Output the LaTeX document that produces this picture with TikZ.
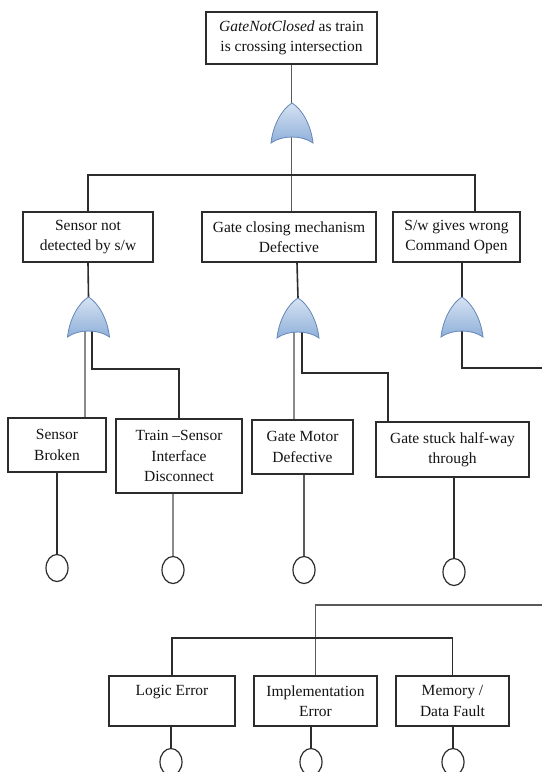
\documentclass[tikz,border=0pt]{standalone}
\usepackage{fontspec}
\setmainfont{Liberation Serif}
\usetikzlibrary{shapes.geometric,calc}
\definecolor{lineC}{HTML}{2C2C2C}
\definecolor{midC}{HTML}{5A5A5A}
\definecolor{grayC}{HTML}{8A8A8A}
\definecolor{gateTop}{HTML}{D6E2F2}
\definecolor{gateBot}{HTML}{8FB0DA}
\definecolor{gateEdge}{HTML}{6586B8}
\pgfdeclarelayer{back}
\pgfdeclarelayer{bg}
\pgfsetlayers{back,bg,main}
\tikzset{
  evbox/.style={draw=lineC, line width=1.5pt, align=center, inner sep=0pt,
    font=\fontsize{15.5}{20.5}\selectfont, text=black!92, fill=white},
  conn/.style={draw=lineC, line width=1.6pt},
  mconn/.style={draw=midC, line width=1.7pt},
  gconn/.style={draw=grayC, line width=1.9pt},
  basic/.style={ellipse, draw=lineC, line width=1.2pt, minimum width=22pt,
    minimum height=27pt, inner sep=0pt, fill=white},
  orgate/.pic={
    \path[top color=gateTop, bottom color=gateBot, draw=gateEdge, line width=0.8pt]
      (0,0) .. controls (10,6) and (19,22) .. (21,40)
      .. controls (10,32) and (-10,32) .. (-21,40)
      .. controls (-19,22) and (-10,6) .. (0,0) -- cycle;
    \coordinate (-top) at (0,0);
    \coordinate (-bot) at (0,34);
  }
}
\begin{document}
\begin{tikzpicture}[x=1pt,y=-1pt]
\useasboundingbox (0,0) rectangle (542,772);
\clip (0,0) rectangle (542,772);
\begin{pgfonlayer}{back}
\fill[white] (0,0) rectangle (542,772);
\end{pgfonlayer}

% boxes
\node[evbox, minimum width=171pt, minimum height=52pt] (top) at (291.5,38)
  {\textit{GateNotClosed} as train\\is crossing intersection};
\node[evbox, minimum width=130pt, minimum height=50pt] (b1) at (88,237)
  {Sensor not\\detected by s/w};
\node[evbox, minimum width=174pt, minimum height=50pt] (b2) at (289,237)
  {Gate closing mechanism\\Defective};
\node[evbox, minimum width=127pt, minimum height=50pt] (b3) at (456.5,237)
  {S/w gives wrong\\Command Open};
\node[evbox, minimum width=98pt, minimum height=54pt] (sb) at (57,445)
  {Sensor\\Broken};
\node[evbox, minimum width=126pt, minimum height=74pt] (ts) at (179,456)
  {Train --Sensor\\Interface\\Disconnect};
\node[evbox, minimum width=101pt, minimum height=54pt] (gm) at (302.5,447)
  {Gate Motor\\Defective};
\node[evbox, minimum width=153pt, minimum height=55pt] (gs) at (452.5,449.5)
  {Gate stuck half-way\\through};
\node[evbox, minimum width=126pt, minimum height=50pt] (le) at (172,701)
  {Logic Error\\\mbox{}};
\node[evbox, minimum width=123pt, minimum height=50pt] (ie) at (315.5,701)
  {Implementation\\Error};
\node[evbox, minimum width=113pt, minimum height=50pt] (md) at (452.5,701)
  {Memory /\\Data Fault};

% basic events
\node[basic] (c1) at (57,568) {};
\node[basic] (c2) at (173,570) {};
\node[basic] (c3) at (304,570) {};
\node[basic] (c4) at (454,572) {};
\node[basic] (c5) at (171,762) {};
\node[basic] (c6) at (311,762) {};
\node[basic] (c7) at (453,762) {};

% gates
\pic (g0) at (292,103) {orgate};
\pic (g1) at (88.5,297) {orgate};
\pic (g2) at (298,298) {orgate};
\pic (g3) at (462,297) {orgate};

% helper coordinates
\coordinate (bus0) at (0,175);
\coordinate (b3in) at ($(b3.north)+(18.5,0)$);
\coordinate (b2out) at ($(b2.south)+(8,0)$);
\coordinate (b3out) at ($(b3.south)+(5.5,0)$);
\coordinate (g1L) at ($(g1-bot)+(-3.5,-4)$);
\coordinate (g1R) at ($(g1-bot)+(3.5,-4)$);
\coordinate (g2L) at ($(g2-bot)+(-4,-4)$);
\coordinate (g2R) at ($(g2-bot)+(4,-4)$);
\coordinate (gsin) at ($(gs.north)+(-64.5,0)$);
\coordinate (out3) at (542,368);
\coordinate (in5) at (542,605);

\begin{pgfonlayer}{bg}
\draw[mconn] (top.south) -- (top.south |- b2.north);
\draw[conn] (b1.north) |- (bus0 -| b3in) -- (b3in);
\draw[conn] (b1.south) -- (g1-top);
\draw[gconn] (g1L) -- (g1L |- sb.north);
\draw[conn] (g1R) -- ++(0,42) -| (ts.north);
\draw[conn] (b2out) -- (g2-top);
\draw[gconn] (g2L) -- (g2L |- gm.north);
\draw[conn] (g2R) -- ++(0,45) -| (gsin);
\draw[conn] (b3out) -- (g3-top);
\draw[conn] (g3-bot) |- (out3);
\draw[mconn] (in5) -| (ie.north);
\draw[conn] (le.north) -- ++(0,-37) -| (md.north);
\draw[conn] (c1.north |- sb.south) -- (c1.north);
\draw[gconn] (c2.north |- ts.south) -- (c2.north);
\draw[mconn] (c3.north |- gm.south) -- (c3.north);
\draw[conn] (c4.north |- gs.south) -- (c4.north);
\draw[conn] (c5.north |- le.south) -- (c5.north);
\draw[conn] (c6.north |- ie.south) -- (c6.north);
\draw[conn] (c7.north |- md.south) -- (c7.north);
\end{pgfonlayer}
\end{tikzpicture}
\end{document}
